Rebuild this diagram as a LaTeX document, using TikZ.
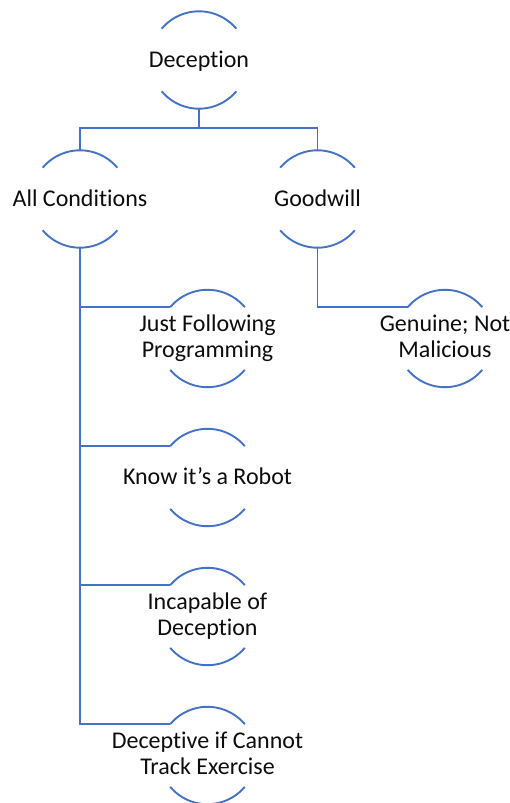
\documentclass[tikz,border=0pt]{standalone}
\usepackage{fontspec}
\setmainfont{Carlito}[RawFeature={-liga;-clig;-dlig}]
\definecolor{lineblue}{HTML}{4472C4}
\definecolor{txt}{HTML}{0D0D0D}
\begin{document}
\begin{tikzpicture}[x=1pt,y=-1pt,
  ring/.style={circle,draw=none,inner sep=0pt,outer sep=0pt,minimum size=97.4pt},
  lbl/.style={inner sep=0pt,outer sep=0pt,anchor=base,align=center,text=txt,
    font=\fontsize{24}{26}\selectfont},
  conn/.style={draw=lineblue,line width=1.9pt},
  arcs/.style={draw=lineblue,line width=1.9pt}]
\useasboundingbox (0,0) rectangle (510,803);
% ring nodes
\node[ring] (dec) at (199,60) {};
\node[ring] (allc) at (80,199) {};
\node[ring] (good) at (317.5,199) {};
\node[ring] (just) at (207.5,338.5) {};
\node[ring] (gen) at (445,338.5) {};
\node[ring] (know) at (207.5,477.5) {};
\node[ring] (inc) at (207.5,616.5) {};
\node[ring] (dtc) at (207.5,755.5) {};
% arcs
\foreach \n in {dec,allc,good,just,gen,know,inc,dtc}{
  \draw[arcs] (\n.140) arc[start angle=-140,end angle=-40,radius=48.7];
  \draw[arcs] (\n.220) arc[start angle=-220,end angle=-320,radius=48.7];
}
% labels
\node[lbl] (tdec) at ([yshift=-7pt]dec.center) {Deception};
\node[lbl] (tallc) at ([yshift=-7pt]allc.center) {All Conditions};
\node[lbl] (tgood) at ([yshift=-7pt]good.center) {Goodwill};
\node[lbl] (tjust) at ([yshift=-19pt]just.center) {Just Following\\Programming};
\node[lbl] (tgen) at ([yshift=-19pt]gen.center) {Genuine; Not\\Malicious};
\node[lbl] (tknow) at ([yshift=-7pt]know.center) {Know it’s a Robot};
\node[lbl] (tinc) at ([yshift=-19pt]inc.center) {Incapable of\\Deception};
\node[lbl] (tdtc) at ([yshift=-19pt]dtc.center) {Deceptive if Cannot\\Track Exercise};
% connectors
\coordinate (bus) at (dec.south |- 0,128);
\draw[conn] (dec.south) -- (bus);
\draw[conn] (allc.north) |- (bus) -| (good.north);
\draw[conn] (allc.south) |- (dtc.140);
\draw[conn] (allc.south) |- (just.140);
\draw[conn] (allc.south) |- (know.140);
\draw[conn] (allc.south) |- (inc.140);
\draw[conn] (good.south) |- (gen.140);
\end{tikzpicture}
\end{document}
